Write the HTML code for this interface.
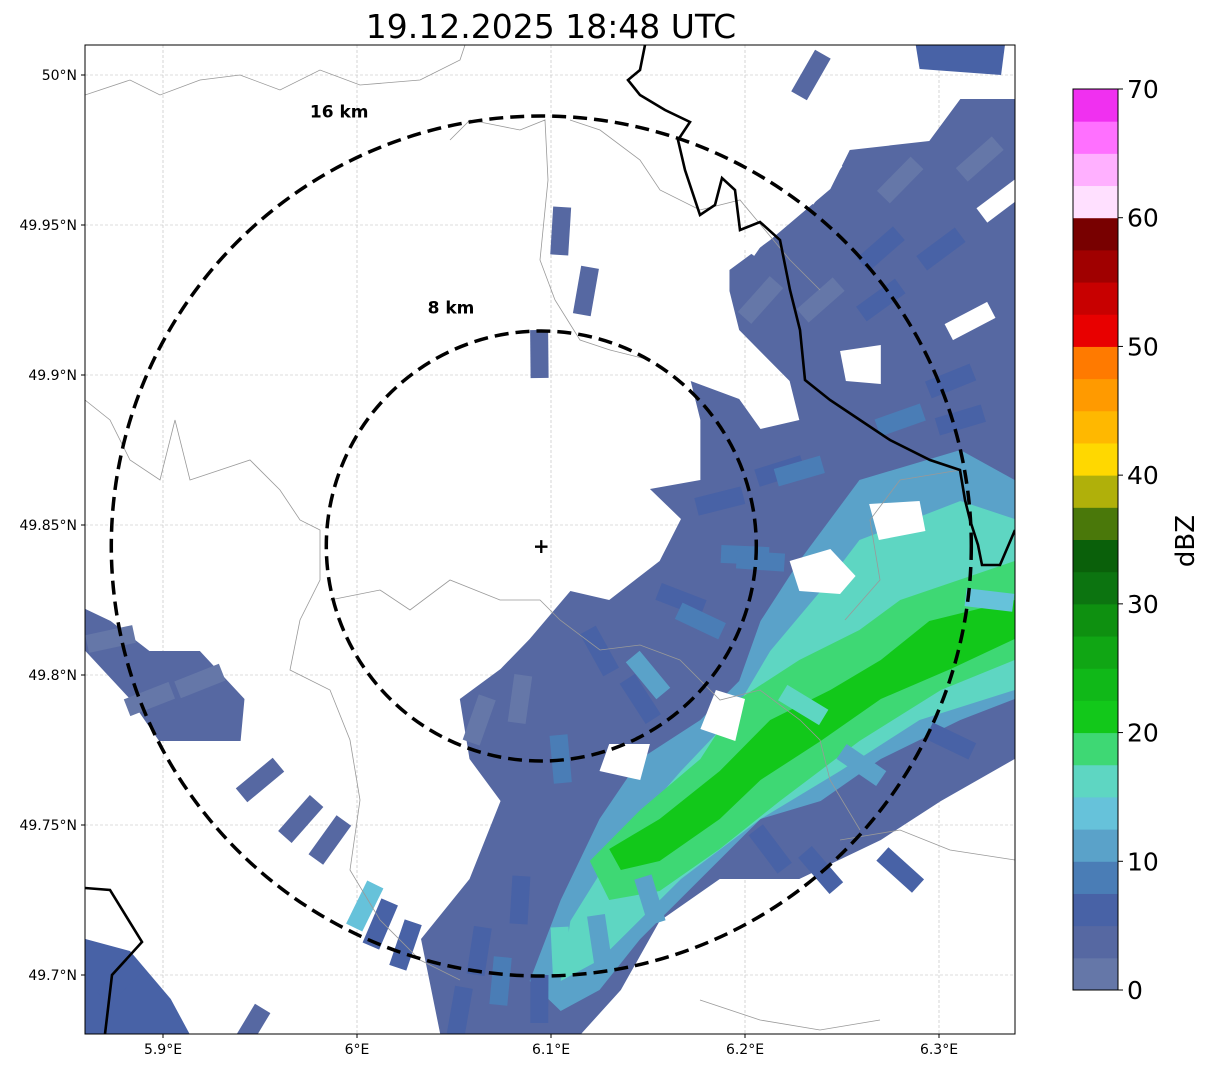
<!DOCTYPE html>
<html><head><meta charset="utf-8">
<style>
html,body{margin:0;padding:0;background:#fff;}
svg{display:block;font-family:"DejaVu Sans","Liberation Sans",sans-serif;}
</style></head>
<body>
<svg id="chart" width="1207" height="1069" viewBox="0 0 1207 1069" xmlns="http://www.w3.org/2000/svg">
<text x="551" y="38" font-size="33" text-anchor="middle">19.12.2025 18:48 UTC</text>
<defs><clipPath id="mapclip"><rect x="85" y="45" width="930" height="989"/></clipPath></defs>
<g id="map" clip-path="url(#mapclip)">
  <g id="grid"></g>
  <g id="echoes"></g>
  <g id="borders" fill="none" stroke="#999" stroke-width="0.8">
    <polyline points="85,95 100,90 130,80 160,95 200,80 240,75 280,90 320,70 360,85 420,80 460,60 465,45"/>
    <polyline points="85,400 110,420 130,460 160,480 175,420 190,480 220,470 250,460 280,490 300,520 320,530 320,580 300,620 290,670 330,690 350,740 360,800 350,870 380,920 420,960 460,980"/>
    <polyline points="330,600 380,590 410,610 450,580 500,600 540,600 560,620 600,650 640,645 680,660 720,700 760,690 800,720 820,740 830,780 860,830"/>
    <polyline points="450,140 470,120 520,130 545,120 548,180 540,260 555,300 580,340 610,350 650,360"/>
    <polyline points="570,120 600,130 640,160 660,190 700,210 740,200 790,260 820,290"/>
    <polyline points="840,840 900,830 950,850 1015,860"/>
    <polyline points="700,1000 760,1020 820,1030 880,1020"/>
    <polyline points="845,620 880,580 870,520 900,480 960,470"/>
  </g>
  <g id="rivers" fill="none" stroke="#000" stroke-width="2.6">
    <polyline points="645,45 640,70 628,80 640,95 665,110 690,122 678,140 685,170 700,215 715,205 722,178 735,190 740,230 760,222 780,240 790,290 800,330 805,380 830,400 860,420 890,440 930,460 960,470 965,500 970,520 978,545 982,565 1000,565 1015,530"/>
    <polyline points="85,888 110,890 142,942 112,975 105,1034"/>
  </g>
  <g id="rings"></g>
</g>
<rect x="85" y="45" width="930" height="989" fill="none" stroke="#000" stroke-width="1"/>
<g id="axes" font-size="14"></g>
<g id="cbar"></g>
<text x="1194" y="541" font-size="26" text-anchor="middle" transform="rotate(-90 1194 541)">dBZ</text>
<script>
const NS="http://www.w3.org/2000/svg";
const X=lon=>163+(lon-5.9)*1940;
const Y=lat=>75+(50-lat)*3000;
const lonTicks=[5.9,6.0,6.1,6.2,6.3];
const lonLabels=["5.9°E","6°E","6.1°E","6.2°E","6.3°E"];
const latTicks=[50,49.95,49.9,49.85,49.8,49.75,49.7];
const latLabels=["50°N","49.95°N","49.9°N","49.85°N","49.8°N","49.75°N","49.7°N"];
const cbarTicks=[0,10,20,30,40,50,60,70];
const cbarColors=["#6577a8","#5668a2","#4862a6","#4a7db6","#5aa2c9","#66c2da","#5ed6c2","#3ed874","#12c81a","#10b818","#10a614","#0e9010","#0c7410","#0a600a","#4a780a","#b0b00a","#ffd800","#ffb800","#ff9a00","#ff7a00","#e80000","#c80000","#a00000","#780000","#ffe0ff","#ffb0ff","#ff70ff","#f030f0"];
const radarLon=6.095, radarLat=49.843;
const ringKm=[8,16];
const ringLabels=["8 km","16 km"];
const ringLabelDx=[-0.42,-0.47];
const ringLabelDy=[-1.11,-1.01];
const regionDbz=[4,12,16,18,22,4,5,5,-1,-1,-1,-1,-1];
const regionPts=[
[[6.192,49.935],[6.213,49.945],[6.244,49.962],[6.254,49.975],[6.295,49.978],[6.311,49.992],[6.339,49.992],[6.339,49.772],[6.301,49.758],[6.270,49.745],[6.228,49.732],[6.187,49.732],[6.156,49.718],[6.136,49.695],[6.115,49.680],[6.043,49.680],[6.033,49.712],[6.058,49.732],[6.074,49.758],[6.058,49.772],[6.053,49.792],[6.074,49.802],[6.089,49.812],[6.110,49.828],[6.130,49.825],[6.156,49.838],[6.167,49.852],[6.151,49.862],[6.177,49.865],[6.177,49.885],[6.172,49.898],[6.197,49.892],[6.208,49.882],[6.228,49.885],[6.223,49.898],[6.197,49.915],[6.192,49.928]],
[[6.259,49.865],[6.311,49.875],[6.339,49.865],[6.339,49.792],[6.311,49.785],[6.270,49.772],[6.239,49.758],[6.208,49.752],[6.177,49.732],[6.146,49.712],[6.125,49.695],[6.105,49.688],[6.089,49.698],[6.105,49.725],[6.125,49.752],[6.146,49.772],[6.177,49.785],[6.197,49.798],[6.208,49.818],[6.228,49.838]],
[[6.259,49.845],[6.311,49.858],[6.339,49.852],[6.339,49.795],[6.290,49.785],[6.249,49.768],[6.208,49.752],[6.167,49.732],[6.125,49.705],[6.105,49.698],[6.110,49.718],[6.136,49.745],[6.167,49.768],[6.192,49.785],[6.213,49.808],[6.239,49.828]],
[[6.280,49.825],[6.339,49.838],[6.339,49.805],[6.301,49.795],[6.259,49.778],[6.218,49.758],[6.187,49.742],[6.156,49.728],[6.130,49.725],[6.120,49.738],[6.146,49.755],[6.177,49.772],[6.197,49.792],[6.228,49.805],[6.259,49.815]],
[[6.295,49.818],[6.339,49.825],[6.339,49.812],[6.306,49.802],[6.270,49.792],[6.239,49.778],[6.208,49.765],[6.187,49.752],[6.156,49.738],[6.136,49.735],[6.130,49.742],[6.156,49.752],[6.187,49.768],[6.213,49.785],[6.244,49.795],[6.270,49.805]],
[[5.860,49.822],[5.873,49.818],[5.893,49.808],[5.919,49.808],[5.942,49.792],[5.940,49.778],[5.919,49.778],[5.898,49.778],[5.883,49.792],[5.860,49.808]],
[[5.860,49.712],[5.883,49.708],[5.904,49.692],[5.914,49.680],[5.860,49.680]],
[[6.288,50.010],[6.334,50.010],[6.332,50.000],[6.290,50.002]],
[[6.223,49.838],[6.244,49.842],[6.257,49.833],[6.249,49.827],[6.228,49.828]],
[[6.264,49.857],[6.290,49.858],[6.293,49.848],[6.269,49.845]],
[[6.185,49.795],[6.200,49.792],[6.195,49.778],[6.177,49.782]],
[[6.130,49.777],[6.151,49.777],[6.146,49.765],[6.125,49.768]],
[[6.249,49.908],[6.270,49.910],[6.270,49.897],[6.252,49.898]]
];
const streakLon=[6.105,6.118,6.094,5.950,5.971,5.986,6.012,6.025,5.945,6.004,6.280,6.239,6.213,6.321,6.234,6.326,6.125,6.167,6.187,6.218,6.270,6.301,6.084,6.063,6.094,6.311,6.150,6.200,6.230,6.260,
6.084,6.063,6.105,6.146,6.177,6.208,6.228,6.280,6.306,6.270,6.239,6.208,6.280,6.321,6.074,6.053,6.125,6.151,6.105,6.306,6.326,5.893,5.919,5.873,5.878,
6.239,6.270,6.316,6.332,6.208];
const streakLat=[49.948,49.928,49.907,49.765,49.752,49.745,49.717,49.710,49.682,49.723,49.735,49.735,49.742,49.982,50.000,49.958,49.808,49.825,49.858,49.868,49.925,49.942,49.725,49.708,49.692,49.885,49.800,49.840,49.790,49.770,
49.792,49.785,49.772,49.792,49.818,49.838,49.868,49.885,49.898,49.942,49.925,49.925,49.965,49.972,49.698,49.688,49.712,49.725,49.708,49.778,49.825,49.792,49.798,49.812,49.698,
49.965,49.988,49.918,49.958,49.948];
const streakDbz=[4,4,4,4,4,4,5,5,4,13,5,5,5,4,4,4,6,6,6,7,6,6,7,7,6,7,10,9,15,10,
2,1,8,7,9,8,9,9,6,6,2,1,1,2,8,6,11,10,17,6,13,2,1,1,6,
-1,-1,-1,-1,-1];

function el(tag,attrs,parent){const e=document.createElementNS(NS,tag);for(const k in attrs)e.setAttribute(k,attrs[k]);parent.appendChild(e);return e;}
function color(d){return d<0?"#ffffff":cbarColors[Math.max(0,Math.min(27,Math.floor(d/2.5)))];}

const grid=document.getElementById("grid");
lonTicks.forEach(v=>{const l=el("line",{x1:X(v),x2:X(v),y1:45,y2:1034,stroke:"#bbb","stroke-width":0.6,"stroke-dasharray":"3,2"},grid);

});
latTicks.forEach(v=>{const l=el("line",{x1:85,x2:1015,y1:Y(v),y2:Y(v),stroke:"#bbb","stroke-width":0.6,"stroke-dasharray":"3,2"},grid);

});

const echoes=document.getElementById("echoes");
regionPts.forEach((pts,i)=>{
  const p=el("polygon",{points:pts.map(q=>X(q[0])+","+Y(q[1])).join(" "),fill:color(regionDbz[i])},echoes);
  
  
});
streakLon.forEach((lo,i)=>{
  const cx=X(lo),cy=Y(streakLat[i]);
  const ang=Math.atan2(cy-Y(radarLat),cx-X(radarLon))*180/Math.PI;
  const r=el("rect",{x:cx-24,y:cy-9,width:48,height:18,fill:color(streakDbz[i]),transform:`rotate(${ang} ${cx} ${cy})`},echoes);
  
  
});

const rings=document.getElementById("rings");
const kmPx=430/16;
ringKm.forEach((k,i)=>{
  const c=el("circle",{cx:X(radarLon),cy:Y(radarLat),r:k*kmPx,fill:"none",stroke:"#000","stroke-width":3.5,"stroke-dasharray":"14,7"},rings);
  
  
  const t=el("text",{x:X(radarLon)+k*kmPx*ringLabelDx[i],y:Y(radarLat)+k*kmPx*ringLabelDy[i]+6,"font-size":17,"font-weight":"bold","text-anchor":"middle"},rings);
  t.textContent=ringLabels[i];
  
  
});
const cross=el("text",{x:X(radarLon),y:Y(radarLat)+7,"font-size":20,"font-weight":"bold","text-anchor":"middle"},rings);
cross.textContent="+";



const axes=document.getElementById("axes");
lonTicks.forEach((v,i)=>{
  el("line",{x1:X(v),x2:X(v),y1:1034,y2:1038,stroke:"#000"},axes);
  const t=el("text",{x:X(v),y:1054,"text-anchor":"middle"},axes);t.textContent=lonLabels[i];
  
  
});
latTicks.forEach((v,i)=>{
  el("line",{x1:81,x2:85,y1:Y(v),y2:Y(v),stroke:"#000"},axes);
  const t=el("text",{x:77,y:Y(v)+5,"text-anchor":"end"},axes);t.textContent=latLabels[i];
  
  
});

const cb=document.getElementById("cbar");
const CB=d=>990-d*(901/70);
for(let i=0;i<28;i++){
  const r=el("rect",{x:1073,y:CB((i+1)*2.5),width:45,height:CB(i*2.5)-CB((i+1)*2.5)+0.5,fill:cbarColors[i]},cb);
  
  
}
el("rect",{x:1073,y:89,width:45,height:901,fill:"none",stroke:"#000","stroke-width":1},cb);
cbarTicks.forEach(v=>{
  el("line",{x1:1118,x2:1123,y1:CB(v),y2:CB(v),stroke:"#000"},cb);
  const t=el("text",{x:1127,y:CB(v)+9,"font-size":25},cb);t.textContent=v;
  
  
});
</script>
</svg>
</body></html>
